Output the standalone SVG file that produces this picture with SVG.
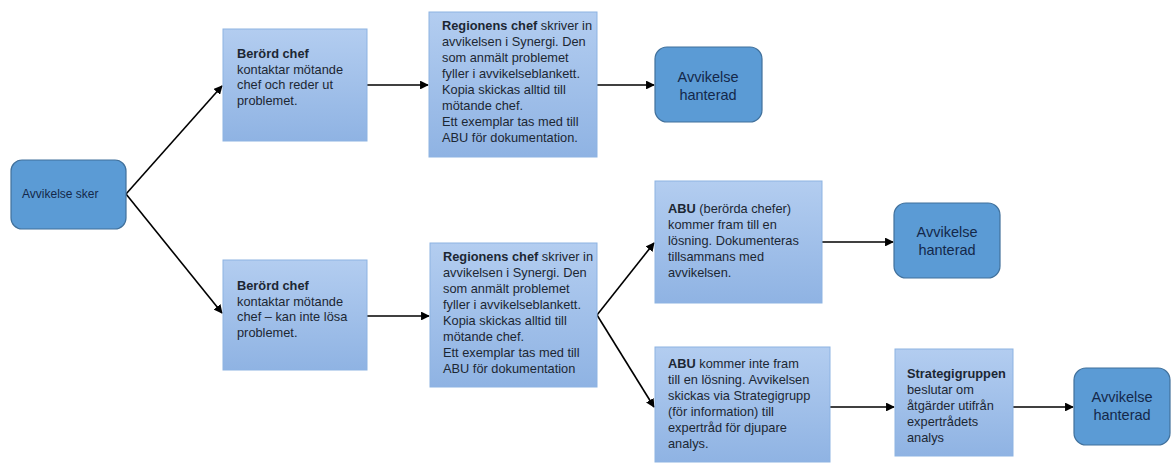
<svg xmlns="http://www.w3.org/2000/svg" width="1172" height="464" viewBox="0 0 1172 464">
<style>
.box{fill:url(#lb);stroke:#8db3e2;stroke-width:1}
.rnd{fill:#5b9bd5;stroke:#41719c;stroke-width:1.2}
.t{font-family:"Liberation Sans",Arial,sans-serif;font-size:12.8px;fill:#1c2733}
.b{font-weight:bold}
.h{font-family:"Liberation Sans",Arial,sans-serif;font-size:14.5px;fill:#14284a;text-anchor:middle}
.s{font-family:"Liberation Sans",Arial,sans-serif;font-size:12px;fill:#14284a}
.c{stroke:#000;stroke-width:1.6;fill:none;marker-end:url(#ah)}
</style>
<defs>
<linearGradient id="lb" x1="0" y1="0" x2="0" y2="1">
<stop offset="0" stop-color="#b3cdf0"/>
<stop offset="1" stop-color="#8fb3e3"/>
</linearGradient>
<marker id="ah" viewBox="0 0 10 10" refX="9" refY="5" markerWidth="5.5" markerHeight="5.5" orient="auto" markerUnits="strokeWidth">
<path d="M0,0 L10,5 L0,10 z" fill="#000"/>
</marker>
</defs>
<rect width="1172" height="464" fill="#fff"/>
<g id="connectors">
<line class="c" x1="126" y1="194" x2="222" y2="86"/>
<line class="c" x1="126" y1="194" x2="222" y2="313"/>
<line class="c" x1="367" y1="85" x2="428" y2="85"/>
<line class="c" x1="597" y1="85" x2="654" y2="85"/>
<line class="c" x1="367" y1="316" x2="429" y2="316"/>
<line class="c" x1="597" y1="315" x2="654" y2="243"/>
<line class="c" x1="597" y1="315" x2="654" y2="407"/>
<line class="c" x1="822" y1="242" x2="893" y2="242"/>
<line class="c" x1="830" y1="407" x2="894" y2="407"/>
<line class="c" x1="1013" y1="407" x2="1073" y2="407"/>
</g>
<g id="start">
<rect class="rnd" x="11" y="160" width="115" height="69" rx="11"/>
<text class="s" x="22" y="198">Avvikelse sker</text>
</g>
<g id="berord1">
<rect class="box" x="223" y="29" width="144" height="112"/>
<text class="t" x="237" y="58"><tspan class="b">Berörd chef</tspan><tspan x="237" dy="15.7">kontaktar mötande</tspan><tspan x="237" dy="15.7">chef och reder ut</tspan><tspan x="237" dy="15.7">problemet.</tspan></text>
</g>
<g id="region1">
<rect class="box" x="429" y="12" width="168" height="145"/>
<text class="t" x="442" y="30"><tspan class="b">Regionens chef</tspan> skriver in<tspan x="442" dy="16">avvikelsen i Synergi. Den</tspan><tspan x="442" dy="16">som anmält problemet</tspan><tspan x="442" dy="16">fyller i avvikelseblankett.</tspan><tspan x="442" dy="16">Kopia skickas alltid till</tspan><tspan x="442" dy="16">mötande chef.</tspan><tspan x="442" dy="16">Ett exemplar tas med till</tspan><tspan x="442" dy="16">ABU för dokumentation.</tspan></text>
</g>
<g id="done1">
<rect class="rnd" x="655" y="47" width="107" height="75" rx="12"/>
<text class="h" x="708" y="82">Avvikelse<tspan x="708" dy="18">hanterad</tspan></text>
</g>
<g id="berord2">
<rect class="box" x="223" y="260" width="144" height="110"/>
<text class="t" x="237" y="290"><tspan class="b">Berörd chef</tspan><tspan x="237" dy="15.7">kontaktar mötande</tspan><tspan x="237" dy="15.7">chef – kan inte lösa</tspan><tspan x="237" dy="15.7">problemet.</tspan></text>
</g>
<g id="region2">
<rect class="box" x="430" y="243" width="167" height="144"/>
<text class="t" x="443" y="261"><tspan class="b">Regionens chef</tspan> skriver in<tspan x="443" dy="16">avvikelsen i Synergi. Den</tspan><tspan x="443" dy="16">som anmält problemet</tspan><tspan x="443" dy="16">fyller i avvikelseblankett.</tspan><tspan x="443" dy="16">Kopia skickas alltid till</tspan><tspan x="443" dy="16">mötande chef.</tspan><tspan x="443" dy="16">Ett exemplar tas med till</tspan><tspan x="443" dy="16">ABU för dokumentation</tspan></text>
</g>
<g id="abu1">
<rect class="box" x="655" y="181" width="167" height="122"/>
<text class="t" x="668" y="213"><tspan class="b">ABU</tspan> (berörda chefer)<tspan x="668" dy="16">kommer fram till en</tspan><tspan x="668" dy="16">lösning. Dokumenteras</tspan><tspan x="668" dy="16">tillsammans med</tspan><tspan x="668" dy="16">avvikelsen.</tspan></text>
</g>
<g id="done2">
<rect class="rnd" x="894" y="203" width="106" height="75" rx="12"/>
<text class="h" x="947" y="237">Avvikelse<tspan x="947" dy="18">hanterad</tspan></text>
</g>
<g id="abu2">
<rect class="box" x="655" y="347" width="175" height="115"/>
<text class="t" x="668" y="368"><tspan class="b">ABU</tspan> kommer inte fram<tspan x="668" dy="16">till en lösning. Avvikelsen</tspan><tspan x="668" dy="16">skickas via Strategigrupp</tspan><tspan x="668" dy="16">(för information) till</tspan><tspan x="668" dy="16">expertråd för djupare</tspan><tspan x="668" dy="16">analys.</tspan></text>
</g>
<g id="strategi">
<rect class="box" x="895" y="349" width="118" height="107"/>
<text class="t" x="907" y="378"><tspan class="b">Strategigruppen</tspan><tspan x="907" dy="16">beslutar om</tspan><tspan x="907" dy="16">åtgärder utifrån</tspan><tspan x="907" dy="16">expertrådets</tspan><tspan x="907" dy="16">analys</tspan></text>
</g>
<g id="done3">
<rect class="rnd" x="1074" y="368" width="96" height="77" rx="12"/>
<text class="h" x="1122" y="402">Avvikelse<tspan x="1122" dy="18">hanterad</tspan></text>
</g>
</svg>
